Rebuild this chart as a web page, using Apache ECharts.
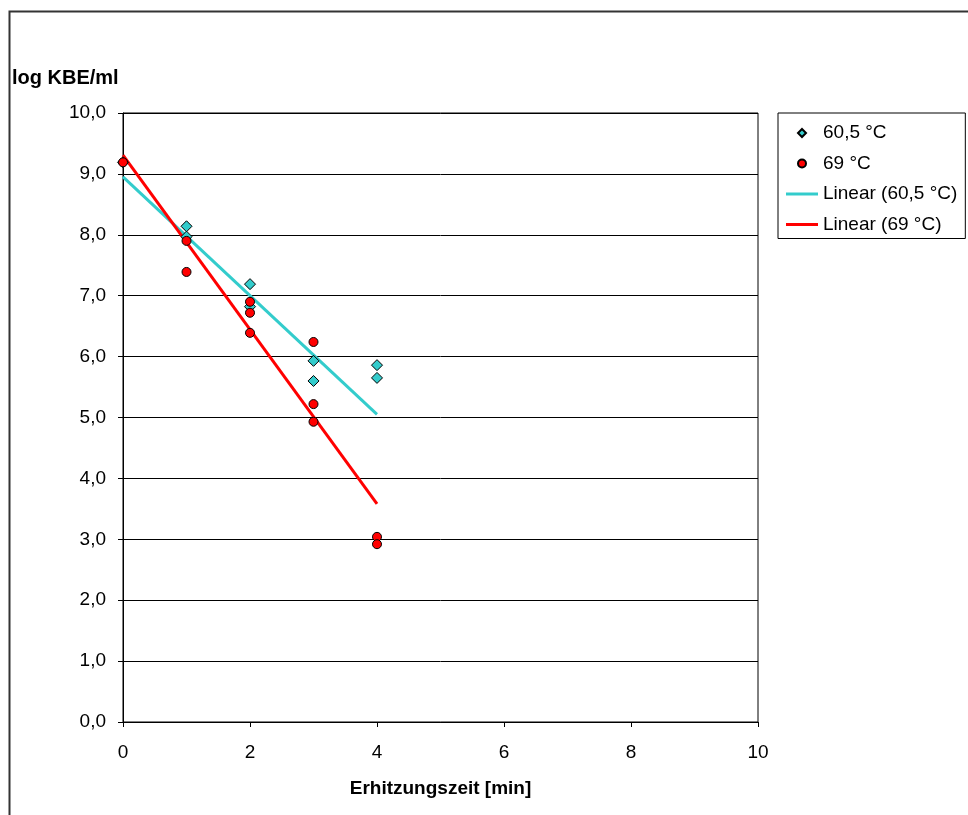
<!DOCTYPE html>
<html lang="de">
<head>
    <meta charset="UTF-8">
    <title>Erhitzungszeit</title>
    <script src="https://cdn.jsdelivr.net/npm/echarts@6/dist/echarts.min.js"></script>
    <style>
        *{margin:0;padding:0;box-sizing:border-box;}
        body,html{width:968px;height:815px;background:#fff;}
        #one{width:968px;height:815px;}
    </style>
</head>
<body>
<div id="one"></div>
<script>
    // Messwerte [min, log KBE/ml]
    var data605 = [[0,9.19],[1,8.14],[1,7.97],[2,7.19],[2,6.82],[3,5.93],[3,5.60],[4,5.86],[4,5.65]]
    var data69 = [[0,9.19],[1,7.90],[1,7.39],[2,6.90],[2,6.72],[2,6.39],[3,6.24],[3,5.22],[3,4.93],[4,3.04],[4,2.92]]
    // Trendlinien (Endpunkte aus dem Bild)
    var trend605 = [[0,8.95],[4,5.05]]
    var trend69 = [[0,9.31],[4,3.58]]
    var names = ['60,5 °C','69 °C','Linear (60,5 °C)','Linear (69 °C)']

    var font = 'Liberation Sans, Arial, sans-serif'
    var lineIcon = 'path://M0,0L32,0L32,3L0,3Z'
    var diamondIcon = 'path://M4,0L8,4L4,8L0,4Z'
    var myCharts = echarts.init(document.getElementById('one'))
    var option = {
        animation:false,
        textStyle:{fontFamily:font},
        title:{
            text:'log KBE/ml',left:7,top:63,
            textStyle:{fontFamily:font,fontSize:20,fontWeight:'bold',color:'#000'}
        },
        graphic:[{
            type:'rect',left:7,top:9,
            shape:{width:1000,height:900},
            style:{fill:'none',stroke:'#333',lineWidth:2}
        }],
        legend:{
            data:[
                {name:names[0],icon:diamondIcon},
                {name:names[1],icon:'circle'},
                {name:names[2],icon:lineIcon},
                {name:names[3],icon:lineIcon}
            ],
            orient:'vertical',left:778,top:113,symbolKeepAspect:true,
            borderColor:'#000',borderWidth:1,borderRadius:0,
            padding:[10,8,4,8],itemGap:10.5,itemWidth:32,itemHeight:8,
            textStyle:{fontFamily:font,fontSize:19,lineHeight:20,color:'#000'}
        },
        grid:{left:123,right:210,top:113,bottom:93,show:true,borderColor:'#000',borderWidth:1},
        xAxis:{
            type:'value',min:0,max:10,interval:2,
            name:'Erhitzungszeit [min]',nameLocation:'middle',nameGap:57,
            nameTextStyle:{fontFamily:font,fontSize:19,fontWeight:'bold',color:'#000'},
            axisLine:{lineStyle:{color:'#000'}},
            axisTick:{show:true,length:5,lineStyle:{color:'#000'}},
            axisLabel:{fontFamily:font,fontSize:19,color:'#000',margin:21},
            splitLine:{show:false}
        },
        yAxis:{
            type:'value',min:0,max:10,interval:1,
            axisLine:{show:true,lineStyle:{color:'#000'}},
            axisTick:{show:true,length:5,lineStyle:{color:'#000'}},
            axisLabel:{fontFamily:font,fontSize:19,color:'#000',margin:17,
                formatter:function(v){return v.toFixed(1).replace('.',',')}},
            splitLine:{show:true,lineStyle:{color:'#000',width:1}}
        },
        series:[
            {name:names[2],type:'line',data:trend605,symbol:'none',z:1,
                lineStyle:{color:'#33CCCC',width:3},itemStyle:{color:'#33CCCC'}},
            {name:names[3],type:'line',data:trend69,symbol:'none',z:1,
                lineStyle:{color:'#FF0000',width:3},itemStyle:{color:'#FF0000'}},
            {name:names[0],type:'scatter',data:data605,symbol:'diamond',symbolSize:11,
                symbolKeepAspect:true,z:3,
                itemStyle:{color:'#33CCCC',borderColor:'#000',borderWidth:1,opacity:1}},
            {name:names[1],type:'scatter',data:data69,symbol:'circle',symbolSize:9,
                symbolKeepAspect:true,z:4,
                itemStyle:{color:'#FF0000',borderColor:'#000',borderWidth:1,opacity:1}}
        ]
    }
    myCharts.setOption(option)
</script>
</body>
</html>
